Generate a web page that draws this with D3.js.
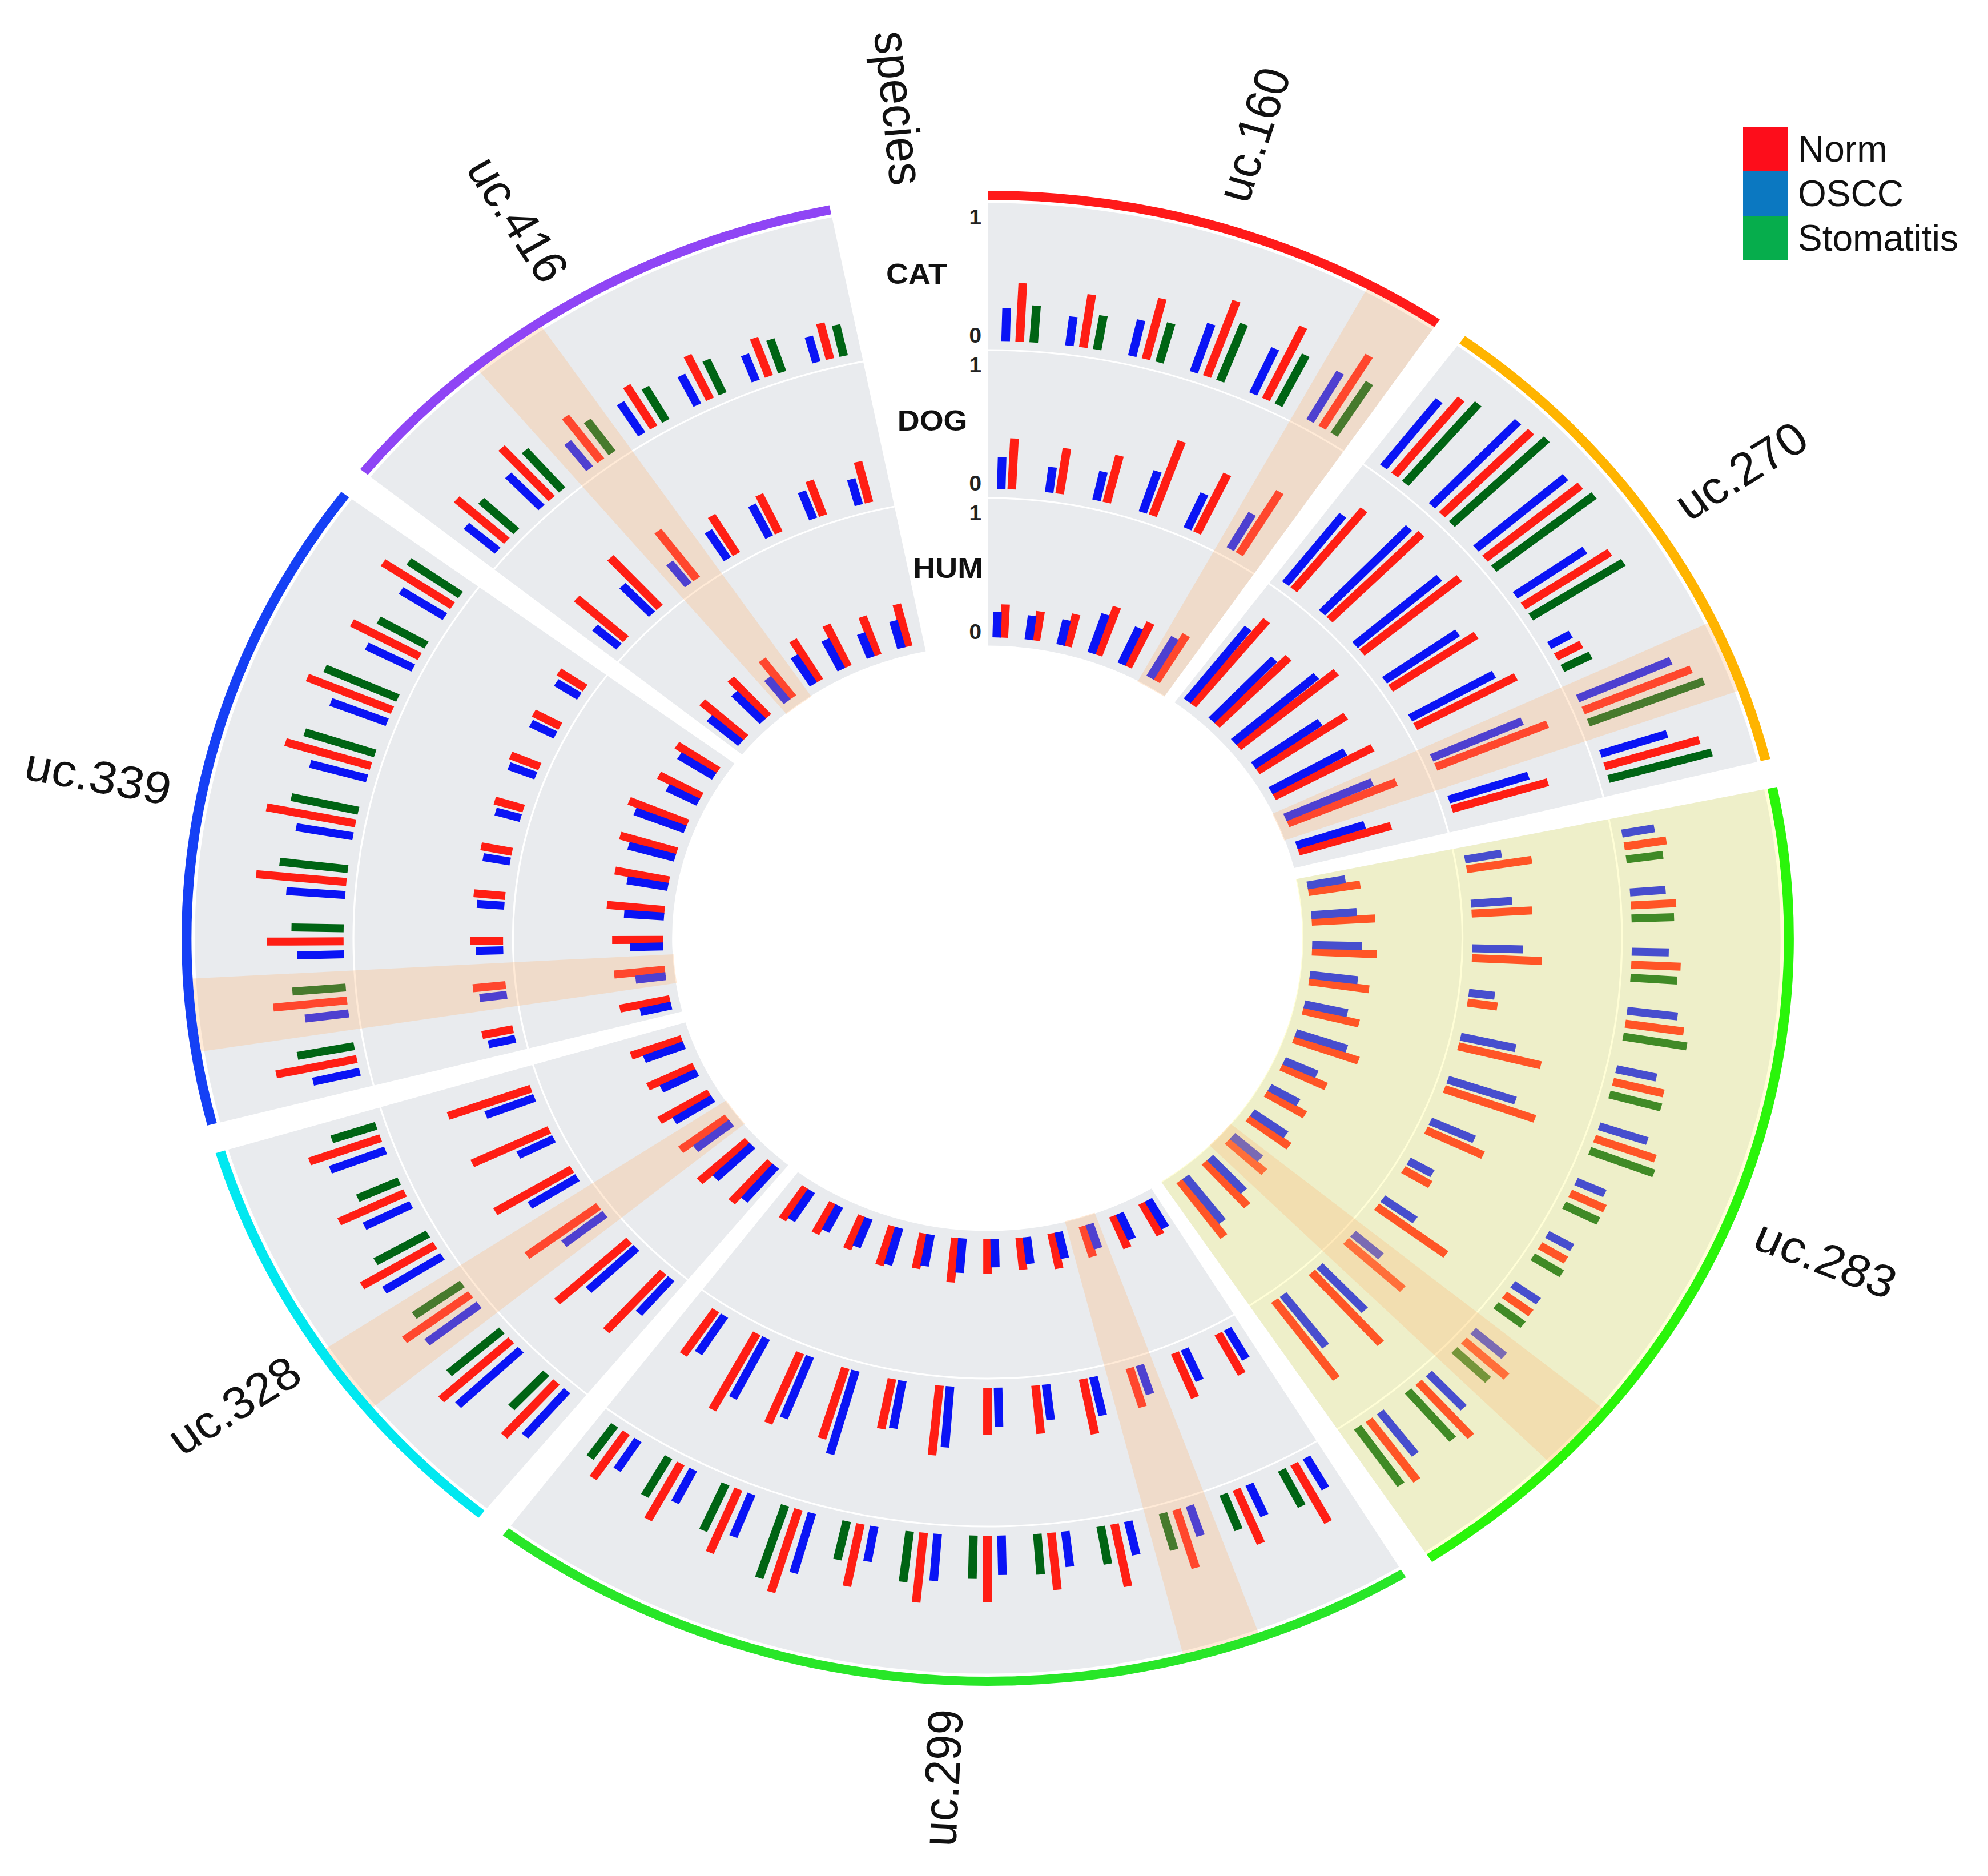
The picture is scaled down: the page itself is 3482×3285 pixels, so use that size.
<!DOCTYPE html>
<html><head><meta charset="utf-8">
<script src="https://cdn.jsdelivr.net/npm/d3@7"></script>
<style>html,body{margin:0;padding:0;background:#fff;}svg{display:block;}</style>
</head><body>
<script>
// ---------------- DATA ----------------
const sectors = ["uc.160","uc.270","uc.283","uc.299","uc.328","uc.339","uc.416"];
const groupsPerSector = [6, 7, 12, 12, 6, 9, 7];
const highlightGroup = [5, 5, 9, 2, 2, 1, 2];
const highlightSector = "uc.283";
const sectorColors = ["#ff1a1a","#ffb400","#2af50a","#28e628","#00e8f0","#1540f5","#8f45f5"];
const speciesTracks = ["HUM","DOG","CAT"];            // inner -> outer
const conditions = ["Norm","OSCC","Stomatitis"];
const barColors = ["#ff1e14","#0a14f5","#006414"];
const legendColors = ["#fd0d1b","#0b78c1","#06ad4c"];
const axisTicks = [0, 1];

const CAT_Norm = [0.46,0.42,0.49,0.63,0.63,0.66,
  0.77,0.92,0.90,0.76,0.21,0.85,0.72,
  0.31,0.33,0.36,0.43,0.38,0.47,0.28,0.22,0.24,0.42,0.57,0.59,
  0.52,0.46,0.48,0.50,0.45,0.52,0.55,0.50,0.68,0.54,0.50,0.43,
  0.57,0.69,0.60,0.62,0.53,0.55,
  0.60,0.54,0.56,0.66,0.66,0.65,0.67,0.56,0.61,
  0.49,0.54,0.43,0.38,0.38,0.32,0.29];
const CAT_OSCC = [0.26,0.23,0.29,0.40,0.39,0.44,
  0.66,0.91,0.86,0.62,0.18,0.74,0.51,
  0.24,0.26,0.27,0.37,0.30,0.37,0.23,0.21,0.23,0.30,0.37,0.42,
  0.28,0.27,0.25,0.27,0.28,0.31,0.37,0.28,0.49,0.36,0.29,0.28,
  0.47,0.63,0.48,0.50,0.38,0.43,
  0.35,0.32,0.34,0.43,0.42,0.43,0.44,0.38,0.38,
  0.30,0.35,0.26,0.29,0.26,0.22,0.21];
const CAT_Stomatitis = [0.29,0.27,0.32,0.48,0.44,0.48,
  0.82,0.96,0.93,0.80,0.23,0.90,0.78,
  0.27,0.31,0.34,0.47,0.39,0.50,0.28,0.25,0.25,0.34,0.50,0.55,
  0.32,0.30,0.30,0.30,0.32,0.34,0.40,0.31,0.60,0.40,0.35,0.31,
  0.37,0.51,0.43,0.44,0.33,0.34,
  0.42,0.39,0.38,0.50,0.50,0.54,0.58,0.40,0.46,
  0.35,0.41,0.31,0.30,0.29,0.27,0.25];
const DOG_Norm = [0.40,0.36,0.38,0.62,0.51,0.57,
  0.81,0.95,0.92,0.75,0.83,0.88,0.73,
  0.48,0.44,0.51,0.22,0.62,0.70,0.46,0.23,0.63,0.56,0.75,0.76,
  0.36,0.38,0.32,0.44,0.38,0.37,0.55,0.40,0.58,0.60,0.68,0.42,
  0.62,0.71,0.65,0.65,0.62,0.64,
  0.23,0.24,0.24,0.23,0.23,0.22,0.23,0.22,0.23,
  0.48,0.53,0.47,0.35,0.33,0.29,0.33];
const DOG_OSCC = [0.25,0.20,0.23,0.34,0.30,0.32,
  0.68,0.92,0.81,0.65,0.70,0.72,0.61,
  0.27,0.30,0.37,0.19,0.41,0.52,0.35,0.20,0.29,0.27,0.48,0.51,
  0.27,0.27,0.24,0.31,0.28,0.31,0.48,0.38,0.68,0.52,0.53,0.35,
  0.36,0.48,0.38,0.41,0.29,0.38,
  0.20,0.20,0.20,0.20,0.20,0.19,0.21,0.20,0.20,
  0.23,0.31,0.22,0.26,0.28,0.23,0.21];
const HUM_Norm = [0.26,0.23,0.26,0.40,0.38,0.42,
  0.85,0.74,0.92,0.77,0.81,0.85,0.70,
  0.38,0.46,0.47,0.44,0.42,0.50,0.36,0.33,0.37,0.36,0.46,0.54,
  0.28,0.27,0.25,0.28,0.25,0.27,0.35,0.28,0.32,0.28,0.27,0.30,
  0.42,0.47,0.42,0.42,0.37,0.39,
  0.37,0.37,0.37,0.42,0.40,0.43,0.46,0.35,0.36,
  0.42,0.40,0.37,0.37,0.36,0.32,0.34];
const HUM_OSCC = [0.20,0.19,0.20,0.32,0.31,0.36,
  0.72,0.66,0.79,0.59,0.62,0.69,0.52,
  0.28,0.33,0.36,0.35,0.32,0.39,0.26,0.24,0.30,0.27,0.36,0.44,
  0.25,0.22,0.20,0.21,0.21,0.22,0.27,0.25,0.30,0.24,0.22,0.27,
  0.35,0.37,0.33,0.33,0.29,0.31,
  0.23,0.22,0.24,0.29,0.30,0.35,0.39,0.25,0.30,
  0.30,0.30,0.23,0.26,0.26,0.20,0.22];

const seriesBySpecies = {
  CAT: {Norm: CAT_Norm, OSCC: CAT_OSCC, Stomatitis: CAT_Stomatitis},
  DOG: {Norm: DOG_Norm, OSCC: DOG_OSCC},
  HUM: {Norm: HUM_Norm, OSCC: HUM_OSCC}
};

// ---------------- LAYOUT ----------------
const W = 3482, H = 3285;
const cx = 1730, cy = 1643, sx = 1.0786;
const STEP = 5.686, GAP = 2.2;           // degrees
const trackBounds = [[511, 771], [771, 1030], [1030, 1289]];
const arcR = [1293, 1309];
const labelR = 1472;
const BW = 14;
const condOffset = {OSCC: -1.25, Norm: 0, Stomatitis: 1.25};
const rad = d => d * Math.PI / 180;

const svg = d3.select("body").append("svg")
  .attr("width", W).attr("height", H)
  .style("font-family", "'Liberation Sans', Arial, Helvetica, sans-serif");
svg.append("rect").attr("width", W).attr("height", H).attr("fill", "#fff");

const g = svg.append("g").attr("transform", `translate(${cx},${cy}) scale(${sx},1)`);

let acc = 0, offset = 0;
const sectorInfo = sectors.map((name, i) => {
  const n = groupsPerSector[i];
  const start = acc, end = acc + n * STEP;
  acc = end + GAP;
  const info = {name, n, start, end, color: sectorColors[i], hl: highlightGroup[i], offset,
    angle: d3.scaleLinear().domain([0, n]).range([start, end])};
  offset += n;
  return info;
});

const tracks = speciesTracks.map((sp, i) => {
  const [r0, r1] = trackBounds[i];
  return {sp, r0, r1,
    y: d3.scaleLinear().domain([0, 1]).range([r0 + 16, r1 - 20]),
    tickY: d3.scaleLinear().domain([0, 1]).range([r0 + 26, r1 - 26])};
});

const arc = d3.arc();

// grey cells
sectorInfo.forEach(s => {
  tracks.forEach(t => {
    g.append("path").attr("d", arc({innerRadius: t.r0 + 1.5, outerRadius: t.r1 - 1.5,
      startAngle: rad(s.start), endAngle: rad(s.end)})).attr("fill", "#e9ebee");
  });
});

// bars
const bars = [];
sectorInfo.forEach(s => {
  d3.range(s.n).forEach(j => {
    const gi = s.offset + j;
    const center = s.angle(j + 0.5);
    tracks.forEach(t => {
      conditions.forEach((c, ci) => {
        const arr = seriesBySpecies[t.sp][c];
        if (!arr) return;
        bars.push({a: center + condOffset[c], r0: t.y(0), r1: t.y(arr[gi]), color: barColors[ci]});
      });
    });
  });
});
g.append("g").selectAll("rect").data(bars).join("rect")
  .attr("x", -BW / 2).attr("y", d => -d.r1)
  .attr("width", BW).attr("height", d => d.r1 - d.r0)
  .attr("fill", d => d.color)
  .attr("transform", d => `rotate(${d.a})`);

// highlights
sectorInfo.forEach(s => {
  if (s.name === highlightSector) {
    g.append("path").attr("d", arc({innerRadius: trackBounds[0][0], outerRadius: arcR[0],
      startAngle: rad(s.start), endAngle: rad(s.end)})).attr("fill", "rgba(255,250,90,0.25)");
  }
  const c = s.angle(s.hl + 0.5);
  g.append("path").attr("d", arc({innerRadius: trackBounds[0][0], outerRadius: arcR[0],
    startAngle: rad(c - STEP / 2), endAngle: rad(c + STEP / 2)})).attr("fill", "rgba(255,180,110,0.28)");
});

// outer arcs
sectorInfo.forEach(s => {
  g.append("path").attr("d", arc({innerRadius: arcR[0], outerRadius: arcR[1],
    startAngle: rad(s.start), endAngle: rad(s.end)})).attr("fill", s.color);
});

// sector labels
function radialLabel(text, angDeg, r, size) {
  const x = r * Math.sin(rad(angDeg)), y = -r * Math.cos(rad(angDeg));
  const rot = (angDeg > 0 && angDeg < 180) ? angDeg - 90 : angDeg + 90;
  g.append("text").attr("transform", `translate(${x},${y}) rotate(${rot})`)
    .attr("text-anchor", "middle").attr("dominant-baseline", "central")
    .attr("font-size", size).attr("fill", "#111").text(text);
}
sectorInfo.forEach(s => radialLabel(s.name, (s.start + s.end) / 2, labelR, 80));
const gapMid = (sectorInfo[sectorInfo.length - 1].end + 360) / 2;
radialLabel("species", gapMid, 1461, 80);

// track labels and axis ticks
tracks.forEach(t => {
  const r = (t.r0 + t.r1) / 2 + 10;
  const a = gapMid;
  g.append("text").attr("x", r * Math.sin(rad(a))).attr("y", -r * Math.cos(rad(a)))
    .attr("text-anchor", "middle").attr("dominant-baseline", "central")
    .attr("font-size", 50).attr("font-weight", "bold").attr("fill", "#111").text(t.sp);
  axisTicks.forEach(v => {
    g.append("text").attr("x", -10).attr("y", -t.tickY(v))
      .attr("text-anchor", "end").attr("dominant-baseline", "central")
      .attr("font-size", 36).attr("font-weight", "bold").attr("fill", "#222").text(v);
  });
});

// legend
const lg = svg.append("g").attr("transform", "translate(3053,222)");
conditions.forEach((c, i) => {
  lg.append("rect").attr("x", 0).attr("y", i * 78).attr("width", 78).attr("height", 78).attr("fill", legendColors[i]);
  lg.append("text").attr("x", 96).attr("y", i * 78 + 39).attr("dominant-baseline", "central")
    .attr("font-size", 64).attr("fill", "#111").text(c);
});
</script>
</body></html>
